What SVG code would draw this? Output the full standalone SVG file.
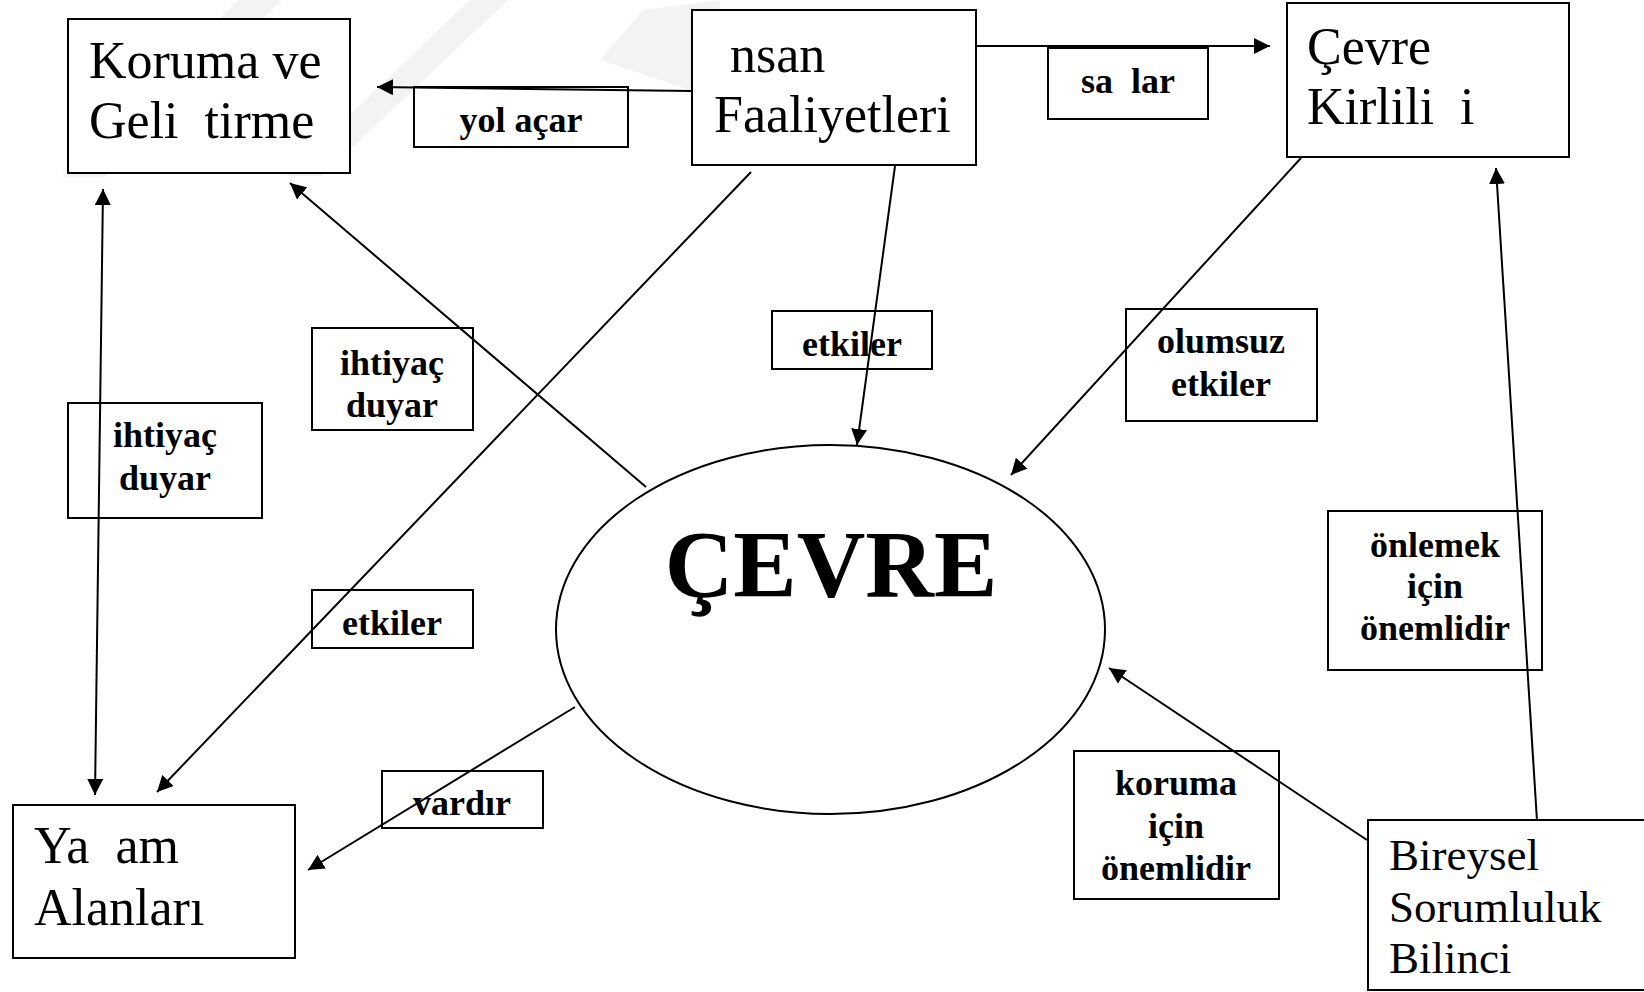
<svg xmlns="http://www.w3.org/2000/svg" width="1644" height="992" viewBox="0 0 1644 992">
<style>
.box{fill:none;stroke:#000;stroke-width:2}
.nb{fill:#fff;stroke:#000;stroke-width:2}
.nt{font-family:"Liberation Serif","Times New Roman",serif;font-size:52px;fill:#000}
.nt2{font-family:"Liberation Serif","Times New Roman",serif;font-size:45px;fill:#000}
.lt{font-family:"Liberation Serif","Times New Roman",serif;font-size:36px;font-weight:bold;fill:#000;text-anchor:middle}
.ln{stroke:#000;stroke-width:2;fill:none}
.wm{fill:#f3f3f3}
</style>
<defs>
<marker id="ah" viewBox="0 0 16 16" refX="16" refY="8" markerWidth="16" markerHeight="16" markerUnits="userSpaceOnUse" orient="auto-start-reverse">
<path d="M0,0 L16,8 L0,16 z" fill="#000"/>
</marker>
</defs>
<rect width="1644" height="992" fill="#fff"/>
<g id="watermark">
<polygon class="wm" points="238,0 282,0 105,177 61,177"/>
<polygon class="wm" points="470,0 508,0 322,176 286,176"/>
<polygon class="wm" points="643,10 720,0 720,60 690,90 600,60"/>
</g>
<g id="connectors">
<line class="ln" x1="692" y1="91" x2="377" y2="87" marker-end="url(#ah)"/>
<line class="ln" x1="977" y1="46" x2="1270" y2="46" marker-end="url(#ah)"/>
<line class="ln" x1="751" y1="172" x2="157" y2="792" marker-end="url(#ah)"/>
<line class="ln" x1="895" y1="166" x2="857" y2="445" marker-end="url(#ah)"/>
<line class="ln" x1="1301" y1="158" x2="1011" y2="475" marker-end="url(#ah)"/>
<line class="ln" x1="646" y1="487" x2="290" y2="183" marker-end="url(#ah)"/>
<line class="ln" x1="103" y1="189" x2="95" y2="795" marker-start="url(#ah)" marker-end="url(#ah)"/>
<line class="ln" x1="575" y1="707" x2="308" y2="870" marker-end="url(#ah)"/>
<line class="ln" x1="1367" y1="840" x2="1109" y2="668" marker-end="url(#ah)"/>
<line class="ln" x1="1537" y1="821" x2="1496" y2="168" marker-end="url(#ah)"/>
</g>
<g id="labels">
<g id="lbl-yolacar"><rect class="box" x="414" y="87" width="214" height="60"/><text class="lt" x="521" y="132">yol açar</text></g>
<g id="lbl-saglar"><rect class="box" x="1048" y="48" width="160" height="71"/><text class="lt" x="1128" y="93" xml:space="preserve">sa  lar</text></g>
<g id="lbl-ihtiyac1"><rect class="box" x="312" y="328" width="161" height="102"/><text class="lt" x="392" y="375">ihtiyaç</text><text class="lt" x="392" y="417">duyar</text></g>
<g id="lbl-ihtiyac2"><rect class="box" x="68" y="403" width="194" height="115"/><text class="lt" x="165" y="447">ihtiyaç</text><text class="lt" x="165" y="490">duyar</text></g>
<g id="lbl-etkiler1"><rect class="box" x="772" y="311" width="160" height="58"/><text class="lt" x="852" y="356">etkiler</text></g>
<g id="lbl-olumsuz"><rect class="box" x="1126" y="309" width="191" height="112"/><text class="lt" x="1221" y="353">olumsuz</text><text class="lt" x="1221" y="396">etkiler</text></g>
<g id="lbl-etkiler2"><rect class="box" x="312" y="590" width="161" height="58"/><text class="lt" x="392" y="635">etkiler</text></g>
<g id="lbl-vardir"><rect class="box" x="382" y="771" width="161" height="57"/><text class="lt" x="462" y="815">vardır</text></g>
<g id="lbl-koruma"><rect class="box" x="1074" y="751" width="205" height="148"/><text class="lt" x="1176" y="795">koruma</text><text class="lt" x="1176" y="838">için</text><text class="lt" x="1176" y="880">önemlidir</text></g>
<g id="lbl-onlemek"><rect class="box" x="1328" y="511" width="214" height="159"/><text class="lt" x="1435" y="557">önlemek</text><text class="lt" x="1435" y="598">için</text><text class="lt" x="1435" y="640">önemlidir</text></g>
</g>
<g id="node-koruma"><rect class="nb" x="68" y="19" width="282" height="154"/><text class="nt" x="89" y="78">Koruma ve</text><text class="nt" x="89" y="138" xml:space="preserve">Geli  tirme</text></g>
<g id="node-insan"><rect class="nb" x="692" y="10" width="284" height="155"/><text class="nt" x="730" y="72">nsan</text><text class="nt" x="714" y="132">Faaliyetleri</text></g>
<g id="node-kirlilik"><rect class="nb" x="1287" y="3" width="282" height="154"/><text class="nt" x="1307" y="64">Çevre</text><text class="nt" x="1307" y="124" xml:space="preserve">Kirlili  i</text></g>
<g id="node-yasam"><rect class="nb" x="13" y="805" width="282" height="153"/><text class="nt" x="34" y="863" xml:space="preserve">Ya  am</text><text class="nt" x="34" y="925">Alanları</text></g>
<g id="node-bireysel"><rect class="nb" x="1368" y="820" width="290" height="170"/><text class="nt2" x="1389" y="870">Bireysel</text><text class="nt2" x="1389" y="922">Sorumluluk</text><text class="nt2" x="1389" y="973">Bilinci</text></g>
<g id="node-cevre"><ellipse class="nb" cx="830.5" cy="629.5" rx="274.5" ry="184.5"/><text x="831" y="597" text-anchor="middle" font-family="Liberation Serif, Times New Roman, serif" font-weight="bold" font-size="95">ÇEVRE</text></g>
</svg>
